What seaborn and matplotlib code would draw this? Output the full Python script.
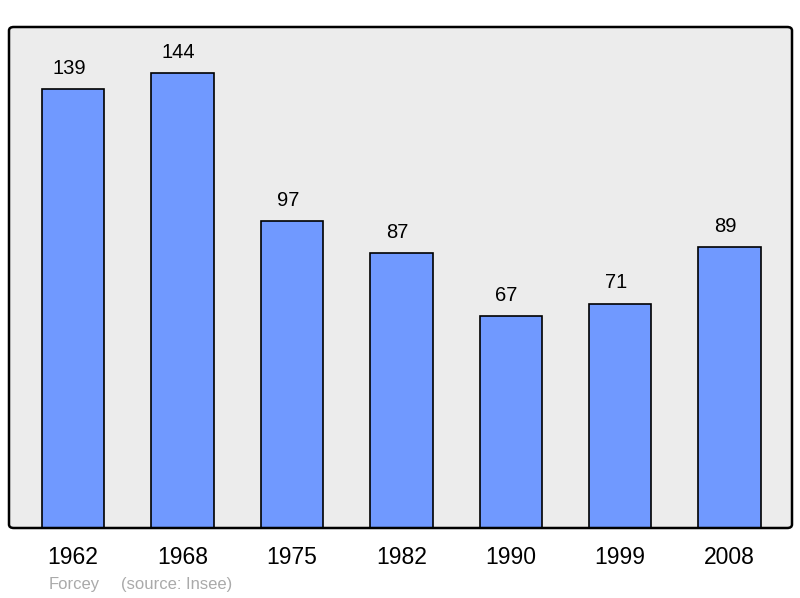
import pandas as pd
import seaborn as sns
import matplotlib.pyplot as plt
from matplotlib.patches import FancyBboxPatch

# --- data ---
years = ['1962', '1968', '1975', '1982', '1990', '1999', '2008']
population = [139, 144, 97, 87, 67, 71, 89]
town = 'Forcey'
source = '(source: Insee)'

df = pd.DataFrame({'year': years, 'population': population})

sns.set_theme(style='white')
plt.rcParams['font.family'] = ['Liberation Sans', 'DejaVu Sans']

fig = plt.figure(figsize=(8, 5.98), dpi=100)
box = [9 / 800, 1 - 528 / 598, 783 / 800, 501 / 598]
ax = fig.add_axes(box)
ax.set_facecolor('none')

# grey panel behind, rounded frame on top
rad = 0.006
fig.patches.append(FancyBboxPatch((box[0], box[1]), box[2], box[3],
                                  boxstyle=f'round,pad=0,rounding_size={rad}',
                                  transform=fig.transFigure, facecolor='#ececec',
                                  edgecolor='none', zorder=-1))
fig.patches.append(FancyBboxPatch((box[0], box[1]), box[2], box[3],
                                  boxstyle=f'round,pad=0,rounding_size={rad}',
                                  transform=fig.transFigure, facecolor='none',
                                  edgecolor='black', linewidth=1.8, zorder=5))

sns.barplot(data=df, x='year', y='population', order=years, color='#7099ff',
            saturation=1, edgecolor='black', linewidth=1.2, width=0.57, ax=ax)

# value labels, slightly left of centre as in the original
for bar in ax.patches:
    h = bar.get_height()
    ax.annotate(f'{h:.0f}', (bar.get_x() + bar.get_width() / 2, h),
                xytext=(-3, 8), textcoords='offset points',
                ha='center', va='bottom', fontsize=14.5, color='black')

ax.set_xlim(-0.585, 6.57)
ax.set_ylim(0, 158.5)
ax.set_xlabel('')
ax.set_ylabel('')
ax.set_yticks([])
ax.tick_params(axis='x', length=0, pad=13, labelsize=16.5, labelcolor='black')

for side in ax.spines.values():
    side.set_visible(False)

fig.text(49 / 800, 1 - 584 / 598, town, fontsize=12, color='#aaaaaa', va='center')
fig.text(121 / 800, 1 - 584 / 598, source, fontsize=12, color='#aaaaaa', va='center')

fig.savefig('out.png', dpi=100)
